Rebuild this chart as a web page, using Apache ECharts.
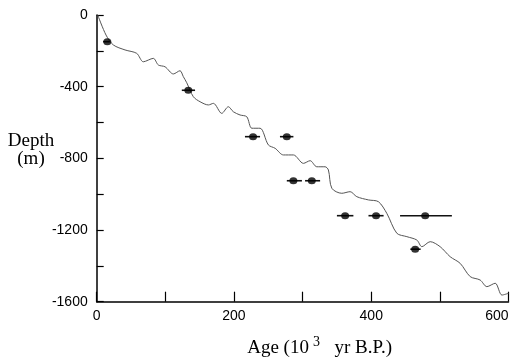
<!DOCTYPE html>
<html>
<head>
<meta charset="utf-8">
<script src="https://cdn.jsdelivr.net/npm/echarts@6/dist/echarts.min.js"></script>
<style>
  html, body { margin: 0; padding: 0; background: #fff; }
  #chart { width: 510px; height: 359px; }
</style>
</head>
<body>
<div id="chart"></div>
<script>
// === DATA ===
// age-depth curve (age in 10^3 yr, depth in m)
const curveAge = [1.5, 13.6, 24.2, 41.3, 58.3, 67.9, 82.5, 89.8, 99.6, 111.7, 121.4, 126.2, 131.2,
  140.8, 150.6, 162.7, 170, 182.2, 191.8, 199.1, 208.9, 218.7, 226, 238, 250.1, 260, 272, 286.6,
  301.2, 311, 320.7, 332.8, 337.6, 342.6, 357.1, 369.2, 379, 395.9, 410.5, 422.7, 437.3, 451.9,
  466.5, 473.8, 485.9, 500.4, 515, 529.6, 544.2, 558.7, 568.5, 580.6, 590.4, 600];
const curveDepth = [0, -112, -167, -195, -214, -261, -242, -279, -289, -329, -311, -344, -378,
  -456, -484, -502, -493, -549, -512, -540, -558, -568, -632, -632, -725, -744, -781, -781,
  -828, -813, -847, -847, -865, -967, -995, -986, -1014, -1032, -1042, -1107, -1218, -1237,
  -1256, -1293, -1265, -1293, -1349, -1386, -1460, -1479, -1516, -1497, -1563, -1553];

// dated points with horizontal error bars
const pointAge   = [15.5, 133.5, 227.8, 277, 286.6, 313.4, 362, 407, 478.6, 464];
const pointDepth = [-149, -420, -679, -679, -925, -925, -1120, -1120, -1120, -1307];
const ageLow     = [9.3, 124, 216, 267, 277, 303.6, 350, 396, 442, 457];
const ageHigh    = [19.1, 143.3, 238, 286.6, 299, 325.5, 374, 418, 517.5, 472];

// axis ticks
const xLabels = [0, 200, 400, 600];
const yLabels = [0, -400, -800, -1200, -1600];

// === RENDER ===
const chart = echarts.init(document.getElementById('chart'));

const tickFont = { fontFamily: 'Liberation Sans', fontSize: 14, color: '#000' };

const option = {
  animation: false,
  grid: { left: 96.7, right: 1.5, top: 15, bottom: 57.3, outerBoundsMode: 'none', containLabel: false },
  graphic: [{
    type: 'text',
    x: 31, y: 150,
    style: {
      text: 'Depth\n(m)',
      font: '19px "Liberation Serif"',
      fill: '#000',
      align: 'center',
      verticalAlign: 'middle',
      lineHeight: 18
    }
  }],
  xAxis: {
    type: 'value', min: 0, max: 600, interval: 100,
    name: 'Age (10{sup|3}  yr B.P.)',
    nameLocation: 'middle', nameGap: 34,
    nameTextStyle: {
      fontFamily: 'Liberation Serif', fontSize: 19, color: '#000',
      padding: [0, 0, 0, 34],
      rich: { sup: { fontFamily: 'Liberation Serif', fontSize: 14, padding: [0, 5, 10, 4] } }
    },
    axisLine: { onZero: false, lineStyle: { color: '#000', width: 1.5 } },
    axisTick: { inside: true, length: 10, lineStyle: { color: '#000', width: 1.2 } },
    axisLabel: Object.assign({
      margin: 7, alignMaxLabel: 'right',
      formatter: v => xLabels.includes(v) ? String(v) : ''
    }, tickFont),
    splitLine: { show: false }
  },
  yAxis: {
    type: 'value', min: -1600, max: 0, interval: 200,
    axisLine: { show: true, onZero: false, lineStyle: { color: '#000', width: 1.5 } },
    axisTick: { inside: true, length: 7, lineStyle: { color: '#000', width: 1.2 } },
    axisLabel: Object.assign({
      margin: 9,
      formatter: v => yLabels.includes(v) ? String(v) : ''
    }, tickFont),
    splitLine: { show: false }
  },
  series: [
    {
      type: 'line',
      data: curveAge.map((a, i) => [a, curveDepth[i]]),
      showSymbol: false,
      smooth: 0.3,
      lineStyle: { color: '#555', width: 1 },
      z: 2
    },
    {
      type: 'custom',
      data: pointAge.map((a, i) => [ageLow[i], ageHigh[i], pointDepth[i]]),
      renderItem: function (params, api) {
        const p1 = api.coord([api.value(0), api.value(2)]);
        const p2 = api.coord([api.value(1), api.value(2)]);
        return {
          type: 'line',
          shape: { x1: p1[0], y1: p1[1], x2: p2[0], y2: p2[1] },
          style: { stroke: '#111', lineWidth: 1.6 }
        };
      },
      encode: { x: [0, 1], y: 2 },
      z: 3
    },
    {
      type: 'scatter',
      data: pointAge.map((a, i) => [a, pointDepth[i]]),
      symbol: 'circle',
      symbolSize: [8, 7],
      itemStyle: { color: '#000' },
      z: 4
    }
  ]
};

chart.setOption(option);
</script>
</body>
</html>
